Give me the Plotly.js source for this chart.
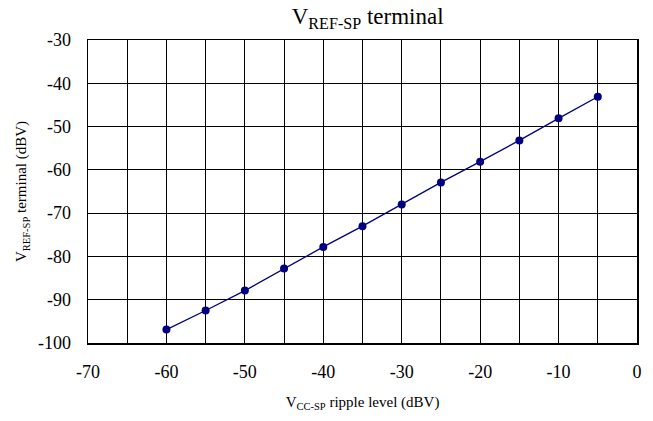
<!DOCTYPE html>
<html>
<head>
<meta charset="utf-8">
<script src="https://cdn.plot.ly/plotly-3.0.1.min.js"></script>
<style>html,body{margin:0;padding:0;background:#fff;}#chart{width:653px;height:421px;}</style>
</head>
<body>
<div id="chart"></div>
<script>
const rippleLevel = [-60, -55, -50, -45, -40, -35, -30, -25, -20, -15, -10, -5];
const refTerminal = [-96.9, -92.5, -87.9, -82.8, -77.8, -73.0, -68.0, -62.9, -58.1, -53.2, -48.1, -43.1];
const xTickVals = [-70, -60, -50, -40, -30, -20, -10, 0];
const yTickVals = [-100, -90, -80, -70, -60, -50, -40, -30];

const fontFam = '"Liberation Serif", "Times New Roman", serif';

const trace = {
  x: rippleLevel,
  y: refTerminal,
  type: 'scatter',
  mode: 'lines+markers',
  line: {color: '#000080', width: 1.3},
  marker: {color: '#000080', size: 8},
  showlegend: false
};

const layout = {
  width: 653,
  height: 421,
  margin: {l: 88, r: 16, t: 40, b: 78},
  paper_bgcolor: '#fff',
  plot_bgcolor: '#fff',
  font: {family: fontFam, color: '#000'},
  title: {
    text: 'V<sub>REF-SP</sub> terminal',
    font: {family: fontFam, size: 23, color: '#000'},
    x: 0.563, xanchor: 'center', y: 0.962, yanchor: 'middle'
  },
  xaxis: {
    range: [-70, 0],
    tickvals: xTickVals,
    ticktext: xTickVals.map(String),
    showgrid: true,
    gridcolor: '#000',
    gridwidth: 1,
    minor: {dtick: 5, tick0: 0, showgrid: true, gridcolor: '#000', gridwidth: 1},
    showline: true, linecolor: '#000', linewidth: 1.5, mirror: true,
    zeroline: false,
    ticks: '',
    ticklabelstandoff: 12,
    tickfont: {family: fontFam, size: 18, color: '#000'},
    title: {text: 'V<sub>CC-SP</sub> ripple level (dBV)', font: {family: fontFam, size: 15, color: '#000'}, standoff: 15}
  },
  yaxis: {
    range: [-100, -30],
    tickvals: yTickVals,
    ticktext: yTickVals.map(String),
    showgrid: true,
    gridcolor: '#000',
    gridwidth: 1,
    showline: true, linecolor: '#000', linewidth: 1.5, mirror: true,
    zeroline: false,
    ticks: '',
    ticklabelstandoff: 12,
    tickfont: {family: fontFam, size: 18, color: '#000'},
    title: {text: 'V<sub>REF-SP</sub> terminal (dBV)', font: {family: fontFam, size: 15, color: '#000'}, standoff: 7}
  }
};

Plotly.newPlot('chart', [trace], layout, {displayModeBar: false, staticPlot: true});
</script>
</body>
</html>
